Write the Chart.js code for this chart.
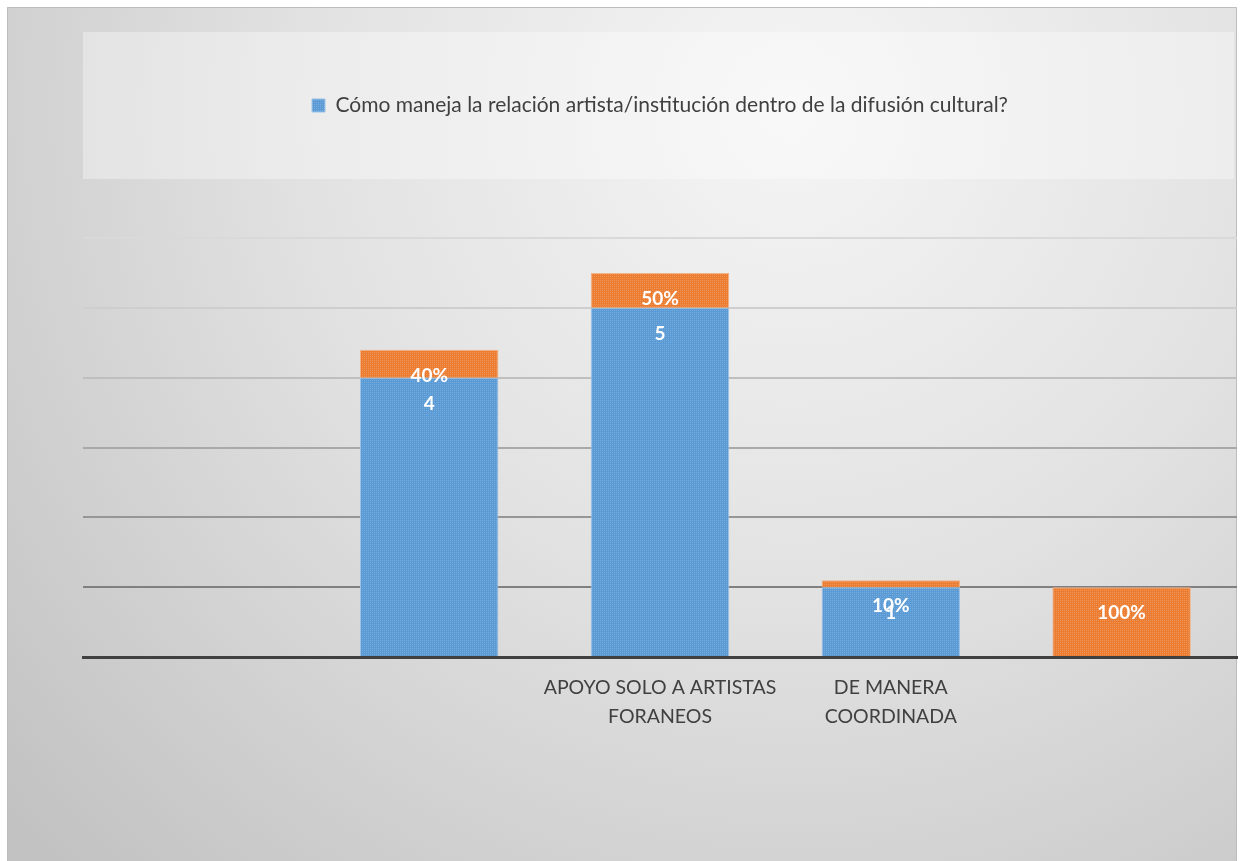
<!DOCTYPE html>
<html>
<head>
<meta charset="utf-8">
<script src="https://cdn.jsdelivr.net/npm/chart.js@4"></script>
<style>
  html, body { margin: 0; padding: 0; background: #fff; }
  #wrap { position: absolute; left: 0; top: 0; width: 1243px; height: 861px; }
</style>
</head>
<body>
<div id="wrap"><canvas id="relChart" width="1243" height="861"></canvas></div>
<script>
const categories = ['', '', ['APOYO SOLO A ARTISTAS', 'FORANEOS'], ['DE MANERA', 'COORDINADA'], ''];
const counts = [null, 4, 5, 1, null];
const shares = [null, 0.4, 0.5, 0.1, 1];
const yTicks = [0, 1, 2, 3, 4, 5, 6];
const seriesName = 'Cómo maneja la relación artista/institución dentro de la difusión cultural?';

const FONT = 'Lato, "Open Sans", sans-serif';

// small dotted tile so the bars get the same woven look
function makePattern(base, light) {
  const c = document.createElement('canvas');
  c.width = 4;
  c.height = 4;
  const g = c.getContext('2d');
  g.fillStyle = base;
  g.fillRect(0, 0, 4, 4);
  g.fillStyle = light;
  g.fillRect(0, 0, 1, 1);
  g.fillRect(2, 0, 1, 1);
  g.fillRect(0, 2, 1, 1);
  g.fillRect(2, 2, 1, 1);
  return g.createPattern(c, 'repeat');
}

const ctx = document.getElementById('relChart').getContext('2d');
const bluePattern = makePattern('#5b9bd5', '#78abdd');
const orangePattern = makePattern('#ec7c30', '#f0955a');

// grid lines darken toward the bottom of the plot
const gridColors = ['rgba(0,0,0,0)', '#808080', '#969696', '#a9a9a9', '#bfbfbf', '#cecece', '#d9d9d9'];

const backdrop = {
  id: 'backdrop',
  beforeDraw(chart) {
    const c = chart.ctx;
    c.save();
    c.fillStyle = '#ffffff';
    c.fillRect(0, 0, chart.width, chart.height);
    const grad = c.createRadialGradient(790, 110, 20, 790, 110, 1050);
    grad.addColorStop(0, '#f4f4f4');
    grad.addColorStop(0.45, '#e2e2e2');
    grad.addColorStop(1, '#c2c2c2');
    c.fillStyle = grad;
    c.fillRect(7, 7, 1230, 854);
    c.strokeStyle = '#bdbdbd';
    c.lineWidth = 1;
    c.beginPath();
    c.moveTo(7.5, 861);
    c.lineTo(7.5, 7.5);
    c.lineTo(1236.5, 7.5);
    c.lineTo(1236.5, 861);
    c.stroke();
    // legend panel
    c.fillStyle = 'rgba(255,255,255,0.35)';
    c.fillRect(83, 32, 1151, 147);
    c.restore();
  }
};

const legendSpace = {
  id: 'legendSpace',
  beforeInit(chart) {
    const fit = chart.legend.fit;
    chart.legend.fit = function () {
      fit.bind(chart.legend)();
      this.height = 143;
    };
  }
};

// white bold values near the top of each segment
const valueLabels = {
  id: 'valueLabels',
  afterDatasetsDraw(chart) {
    const c = chart.ctx;
    c.save();
    c.fillStyle = '#ffffff';
    c.font = 'bold 19px ' + FONT;
    c.textAlign = 'center';
    c.textBaseline = 'middle';
    chart.data.datasets.forEach((ds, di) => {
      chart.getDatasetMeta(di).data.forEach((el, i) => {
        const v = ds.data[i];
        if (v === null || v === undefined) return;
        const text = di === 1 ? Math.round(v * 100) + '%' : String(v);
        c.fillText(text, el.x, el.y + 26);
      });
    });
    c.restore();
  }
};

new Chart(ctx, {
  type: 'bar',
  data: {
    labels: categories,
    datasets: [
      {
        label: seriesName,
        data: counts,
        backgroundColor: bluePattern,
        borderColor: '#9cc3e8',
        borderWidth: 1,
        categoryPercentage: 1,
        barPercentage: 0.6,
      },
      {
        label: 'Porcentaje',
        data: shares,
        backgroundColor: orangePattern,
        borderColor: '#f4b183',
        borderWidth: 1,
        categoryPercentage: 1,
        barPercentage: 0.6,
      },
    ],
  },
  options: {
    responsive: false,
    animation: false,
    layout: {
      padding: { left: 83, right: 6, top: 95, bottom: 14 },
    },
    plugins: {
      tooltip: { enabled: false },
      legend: {
        position: 'top',
        labels: {
          filter: (item) => item.datasetIndex === 0,
          color: '#404040',
          font: { family: FONT, size: 21 },
          boxWidth: 13,
          boxHeight: 13,
          padding: 0,
        },
      },
    },
    scales: {
      x: {
        stacked: true,
        grid: { display: false, drawTicks: false },
        border: { display: true, color: '#404040', width: 3 },
        ticks: {
          color: '#404040',
          font: { family: FONT, size: 19.5, lineHeight: 1.5 },
          padding: 16,
          maxRotation: 0,
          autoSkip: false,
        },
        afterFit: (scale) => {
          scale.height = 190;
        },
      },
      y: {
        stacked: true,
        min: yTicks[0],
        max: yTicks[yTicks.length - 1],
        afterBuildTicks: (scale) => {
          scale.ticks = yTicks.map((v) => ({ value: v }));
        },
        grid: {
          drawTicks: false,
          lineWidth: 2,
          color: (c) => gridColors[c.index] || '#cccccc',
        },
        border: { display: false },
        ticks: { display: false },
      },
    },
  },
  plugins: [backdrop, legendSpace, valueLabels],
});
</script>
</body>
</html>
